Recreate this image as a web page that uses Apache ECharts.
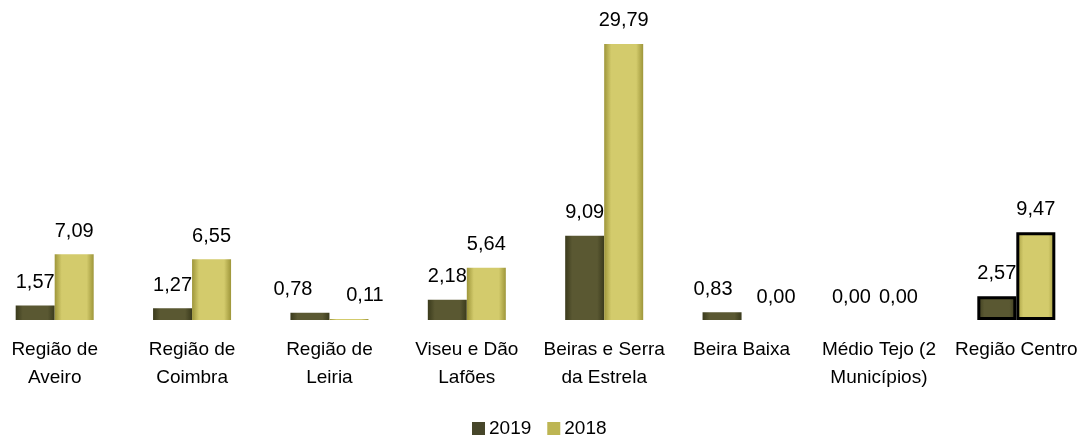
<!DOCTYPE html>
<html>
<head>
<meta charset="utf-8">
<script src="https://cdn.jsdelivr.net/npm/echarts@6/dist/echarts.min.js"></script>
<style>
  html, body { margin: 0; padding: 0; background: #fff; overflow: hidden; }
  /* plot runs a bit past the left edge in the original, so shift the box */
  #chart { position: absolute; left: -14px; top: 0; width: 1100px; height: 442px; }
</style>
</head>
<body>
<div id="chart"></div>
<script>
const categories = [
  "Região de\nAveiro",
  "Região de\nCoimbra",
  "Região de\nLeiria",
  "Viseu e Dão\nLafões",
  "Beiras e Serra\nda Estrela",
  "Beira Baixa",
  "Médio Tejo (2\nMunicípios)",
  "Região Centro",
];
const values2019 = [1.57, 1.27, 0.78, 2.18, 9.09, 0.83, 0.0, 2.57];
const values2018 = [7.09, 6.55, 0.11, 5.64, 29.79, 0.0, 0.0, 9.47];
const seriesNames = ["2019", "2018"];

const FONT = "'Liberation Sans', Arial, sans-serif";

// labels of the tiny bars were nudged sideways in the original (index -> dx)
const nudge2019 = { 2: -17, 5: -9, 6: -8 };
const nudge2018 = { 2: 16, 5: 15 };

// bevel-ish horizontal gradient
function grad(edge, mid) {
  return new echarts.graphic.LinearGradient(0, 0, 1, 0, [
    { offset: 0, color: edge },
    { offset: 0.18, color: mid },
    { offset: 0.82, color: mid },
    { offset: 1, color: edge },
  ]);
}
const color2019 = grad("#3a3a1c", "#5a5832");
const color2018 = grad("#9e963a", "#d3cb6c");

function toData(arr, nudge) {
  return arr.map((v, i) => {
    const item = { value: v };
    if (nudge[i]) item.label = { offset: [nudge[i], 0] };
    // last category (Região Centro) has a heavy black outline
    if (i === arr.length - 1) item.itemStyle = { borderColor: "#000", borderWidth: 3 };
    return item;
  });
}

const labelFmt = (p) => p.value.toFixed(2).replace(".", ",");

const valueLabel = {
  show: true,
  position: "top",
  distance: 13,
  formatter: labelFmt,
  color: "#000",
  fontFamily: FONT,
  fontSize: 20,
};

const option = {
  animation: false,
  grid: { left: 0, right: 1, top: 42, bottom: 122, outerBoundsMode: "none" },
  legend: {
    top: 414,
    left: 467 + 14,
    itemWidth: 13,
    itemHeight: 13,
    itemGap: 16,
    icon: "rect",
    textStyle: { fontFamily: FONT, fontSize: 19, color: "#000", padding: [0, 0, 0, -1] },
    data: [
      { name: "2019", itemStyle: { color: "#47462a" } },
      { name: "2018", itemStyle: { color: "#bdb553" } },
    ],
  },
  xAxis: {
    type: "category",
    data: categories,
    axisLine: { show: false },
    axisTick: { show: false },
    axisLabel: {
      interval: 0,
      margin: 16,
      color: "#000",
      fontFamily: FONT,
      fontSize: 19,
      lineHeight: 28,
    },
  },
  yAxis: {
    type: "value",
    min: 0,
    max: 30,
    show: false,
    splitLine: { show: false },
  },
  series: [
    {
      name: seriesNames[0],
      type: "bar",
      data: toData(values2019, nudge2019),
      barWidth: 39,
      barGap: "0%",
      itemStyle: { color: color2019 },
      label: valueLabel,
    },
    {
      name: seriesNames[1],
      type: "bar",
      data: toData(values2018, nudge2018),
      barWidth: 39,
      itemStyle: { color: color2018 },
      label: valueLabel,
    },
  ],
};

const myChart = echarts.init(document.getElementById("chart"));
myChart.setOption(option);
</script>
</body>
</html>
